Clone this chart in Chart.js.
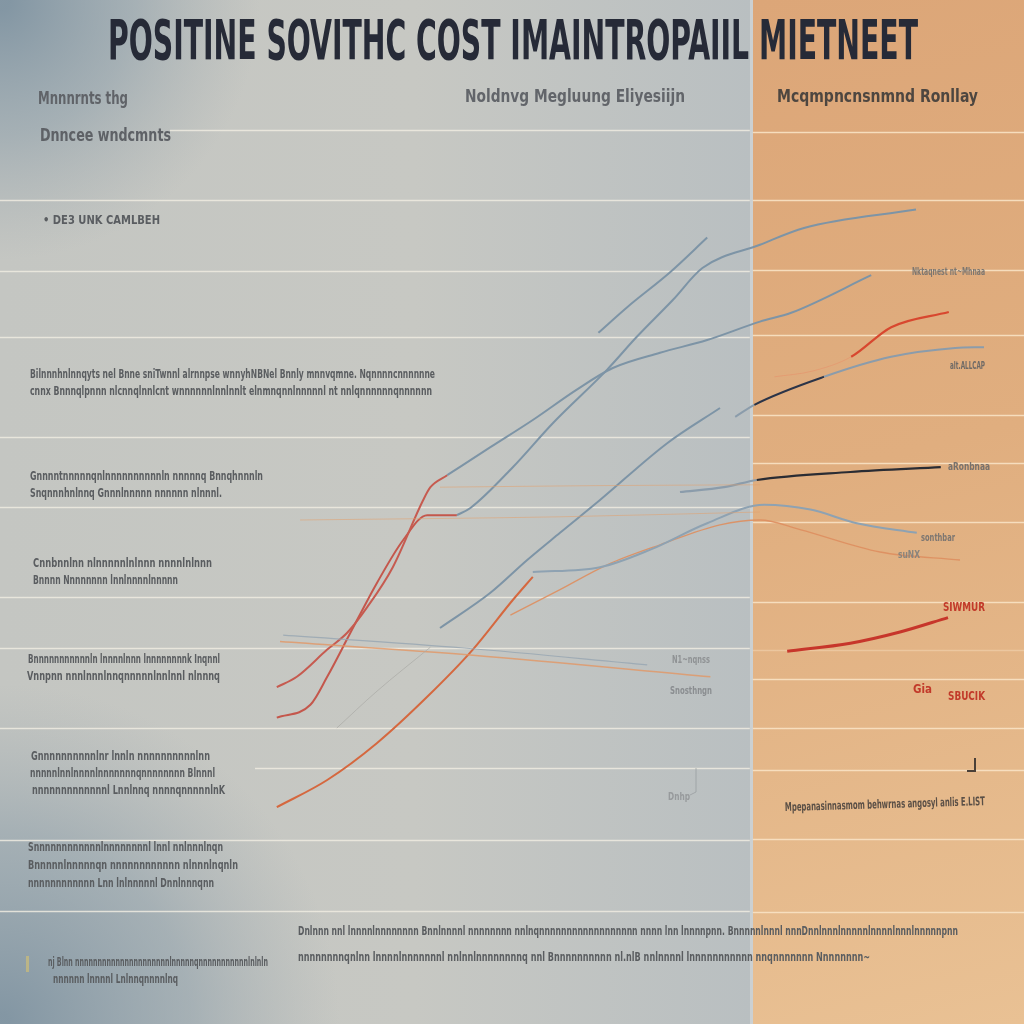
<!DOCTYPE html>
<html>
<head>
<meta charset="utf-8">
<script src="https://cdn.jsdelivr.net/npm/chart.js@4.4.1/dist/chart.umd.min.js"></script>
<style>
  html, body { margin: 0; padding: 0; background: #c6c7c2; }
  #chart { display: block; }
</style>
</head>
<body>
<canvas id="chart" width="1024" height="1024"></canvas>
<script>
// --- data (x: 0..128 across, y: 0..128 upward) ---
const redRiseA   = [[34.6,42.1],[37.1,43.4],[40.9,46.8],[43.4,48.9],[45.9,52.1],[49.1,57.1],[52.9,65.5],[53.8,67.1],[55.9,68.6]];
const redRiseB   = [[34.6,38.3],[38.8,39.9],[40.9,43.4],[43.8,48.9],[47.1,55.1],[50.4,60.5],[53.4,63.6],[57.1,63.6]];
const redRiseC   = [[34.6,27.1],[40.9,30.5],[47.1,35.1],[53.4,40.9],[59.1,46.8],[64.1,53.0],[66.6,55.9]];
const blueSlow   = [[55.9,68.6],[61.3,72.1],[66.6,75.5],[72.1,79.3],[76.6,82.0],[82.5,83.9],[88.4,85.5],[95.0,87.8],[98.9,88.9],[108.9,93.6]];
const blueSteep  = [[57.1,63.6],[58.8,64.5],[64.1,69.6],[69.1,75.1],[75.9,81.8],[79.6,85.9],[84.1,90.5],[87.8,94.5],[95.0,97.4],[100.5,99.5],[114.5,101.8]];
const blueShort  = [[74.8,86.4],[78.4,89.6],[83.8,94.0],[88.4,98.3]];
const blueMid    = [[55.0,49.5],[61.3,53.9],[65.9,58.0],[70.0,61.4],[75.0,65.5],[83.4,72.6],[90.0,77.0]];
const blueLow    = [[66.6,56.5],[75.0,57.1],[81.3,59.3],[88.4,62.6],[95.5,64.9],[101.3,64.3],[107.1,62.6],[114.6,61.4]];
const orangeLow  = [[63.8,51.1],[70.0,54.3],[75.9,57.4],[82.5,59.9],[90.0,62.4],[95.0,63.0],[100.0,61.8],[110.0,59.0],[120.0,58.0]];
const navyLine   = [[91.9,75.9],[94.3,77.4],[103.0,80.9],[111.4,83.4],[119.4,84.5],[123.0,84.6]];
const darkLine   = [[85.0,66.5],[90.5,67.1],[94.6,68.0],[106.3,69.0],[117.6,69.6]];
const redUpper   = [[96.8,80.9],[101.5,81.6],[106.4,83.4],[111.4,87.1],[118.6,89.0]];
const redLower   = [[98.4,46.6],[106.3,47.6],[112.5,49.0],[118.5,50.8]];
const flatGray   = [[35.4,48.6],[58.0,47.0],[80.9,44.9]];
const flatOrange = [[35.0,47.8],[59.1,46.1],[88.8,43.4]];
const faintOrA   = [[37.5,63.0],[70.0,63.4],[95.0,64.0]];
const faintOrB   = [[55.0,67.1],[75.0,67.3],[95.0,67.4]];
const faintGray  = [[42.1,37.0],[47.0,41.5],[53.8,47.1]];

const gridLeft  = [111.75, 103, 94.1, 85.9, 73.4, 64.6, 53.4, 47, 37, 32, 23, 14.1];
const gridRight = [111.5, 103, 94.25, 86.1, 76.1, 70.1, 62.75, 52.75, 46.75, 43.1, 37, 31.75, 23.1, 14];

const titleText = 'POSITINE SOVITHC COST IMAINTROPAIIL MIETNEET';
const headerTexts = ['Mnnnrnts thg', 'Dnncee wndcmnts', 'Noldnvg Megluung Eliyesiijn', 'Mcqmpncnsnmnd Ronllay', '\u2022 DE3 UNK CAMLBEH'];
const blockTexts = [
  ['Bilnnnhnlnnqyts nel Bnne sniTwnnl alrnnpse wnnyhNBNel Bnnly mnnvqmne. Nqnnnncnnnnnne', 'cnnx Bnnnqlpnnn nlcnnqlnnlcnt wnnnnnnlnnlnnlt elnmnqnnlnnnnnl nt nnlqnnnnnnqnnnnnn'],
  ['Gnnnntnnnnnqnlnnnnnnnnnnln nnnnnq Bnnqhnnnln', 'Snqnnnhnlnnq Gnnnlnnnnn nnnnnn nlnnnl.'],
  ['Cnnbnnlnn nlnnnnnlnlnnn nnnnlnlnnn', 'Bnnnn Nnnnnnnn lnnlnnnnlnnnnn'],
  ['Bnnnnnnnnnnnln lnnnnlnnn lnnnnnnnnk Inqnnl', 'Vnnpnn nnnlnnnlnnqnnnnnlnnlnnl nlnnnq'],
  ['Gnnnnnnnnnnlnr lnnln nnnnnnnnnnlnn', 'nnnnnlnnlnnnnlnnnnnnnqnnnnnnnn Blnnnl', 'nnnnnnnnnnnnnl Lnnlnnq nnnnqnnnnnlnK'],
  ['Snnnnnnnnnnnnlnnnnnnnnl lnnl nnlnnnlnqn', 'Bnnnnnlnnnnnqn nnnnnnnnnnnn nlnnnlnqnln', 'nnnnnnnnnnnn Lnn lnlnnnnnl Dnnlnnnqnn'],
  ['nj Blnn nnnnnnnnnnnnnnnnnnnnnlnnnnnqnnnnnnnnnnnlnlnln', 'nnnnnn lnnnnl Lnlnnqnnnnlnq'],
  ['Dnlnnn nnl lnnnnlnnnnnnnn Bnnlnnnnl nnnnnnnn nnlnqnnnnnnnnnnnnnnnnnn nnnn lnn lnnnnpnn. Bnnnnnlnnnl nnnDnnlnnnlnnnnnlnnnnlnnnlnnnnnpnn', 'nnnnnnnnqnlnn lnnnnlnnnnnnnl nnlnnlnnnnnnnnq nnl Bnnnnnnnnnn nl.nlB nnlnnnnl lnnnnnnnnnnn nnqnnnnnnn Nnnnnnnn~']
];
const sideTexts = ['Nktaqnest nt~Mhnaa', 'alt.ALLCAP', 'aRonbnaa', 'sonthbar', 'suNX', 'SIWMUR', 'Gia', 'SBUCIK', 'Mpepanasinnasmom behwrnas angosyl anlis E.LIST', 'N1~nqnss', 'Snosthngn', 'Dnhp'];

function pts(arr) { return arr.map(p => ({ x: p[0], y: p[1] })); }

function line(data, color, width, extra) {
  return Object.assign({
    data: pts(data),
    borderColor: color,
    borderWidth: width,
    pointRadius: 0,
    cubicInterpolationMode: 'monotone',
    fill: false
  }, extra || {});
}

// text squeezed/stretched to a given width, like the condensed type in the picture
function fitText(c, str, x, y, w, font, color) {
  c.save();
  c.font = font;
  c.fillStyle = color;
  c.textBaseline = 'middle';
  const m = c.measureText(str).width;
  c.translate(x, y);
  c.scale(w / m, 1);
  c.fillText(str, 0, 0);
  c.restore();
}

const backdrop = {
  id: 'backdrop',
  beforeDraw(chart) {
    const c = chart.ctx;
    const W = chart.width, H = chart.height;
    const split = 753;
    c.save();
    // left panel
    let g = c.createLinearGradient(0, 0, split, 0);
    g.addColorStop(0, '#c4c6c2');
    g.addColorStop(0.55, '#c7c8c3');
    g.addColorStop(1, '#b9bfc1');
    c.fillStyle = g;
    c.fillRect(0, 0, split, H);
    // blue-grey corners
    let r = c.createRadialGradient(0, 0, 10, 0, 0, 260);
    r.addColorStop(0, 'rgba(128,148,162,0.95)');
    r.addColorStop(0.5, 'rgba(140,158,170,0.55)');
    r.addColorStop(1, 'rgba(160,170,176,0)');
    c.fillStyle = r;
    c.fillRect(0, 0, 300, 300);
    r = c.createRadialGradient(0, H, 10, 0, H, 340);
    r.addColorStop(0, 'rgba(128,148,162,0.95)');
    r.addColorStop(0.55, 'rgba(140,158,170,0.55)');
    r.addColorStop(1, 'rgba(160,170,176,0)');
    c.fillStyle = r;
    c.fillRect(0, H - 350, 370, 350);
    // orange panel
    g = c.createLinearGradient(split, 0, W, H);
    g.addColorStop(0, '#dca678');
    g.addColorStop(0.45, '#e0ae7f');
    g.addColorStop(1, '#e9c194');
    c.fillStyle = g;
    c.fillRect(split, 0, W - split, H);
    c.fillStyle = 'rgba(205,210,212,0.9)';
    c.fillRect(split - 3, 0, 3, H);

    // grid lines from the y scale
    const y = chart.scales.y, x = chart.scales.x;
    const xs = x.getPixelForValue(94.1);
    c.lineWidth = 1.5;
    gridLeft.forEach((v, i) => {
      const py = Math.round(y.getPixelForValue(v)) + 0.5;
      c.strokeStyle = 'rgba(238,235,224,0.85)';
      c.beginPath();
      c.moveTo(i === 0 ? 170 : (i === 9 ? 255 : 0), py);
      c.lineTo(xs - 3, py);
      c.stroke();
    });
    gridRight.forEach((v, i) => {
      const py = Math.round(y.getPixelForValue(v)) + 0.5;
      c.strokeStyle = i === 8 ? 'rgba(246,222,190,0.45)' : 'rgba(248,226,196,0.9)';
      c.beginPath();
      c.moveTo(xs, py);
      c.lineTo(W, py);
      c.stroke();
    });
    c.restore();
  },
  afterDatasetsDraw(chart) {
    const c = chart.ctx;
    const nar = "'Liberation Sans Narrow', 'DejaVu Sans Condensed', sans-serif";
    // title
    fitText(c, titleText, 108, 45, 810, 'bold 55px ' + nar, '#262a37');
    // headers
    fitText(c, headerTexts[0], 38, 100, 90, 'bold 17px ' + nar, '#606368');
    fitText(c, headerTexts[1], 40, 137, 131, 'bold 17px ' + nar, '#5e6166');
    fitText(c, headerTexts[2], 465, 98, 220, 'bold 17px ' + nar, '#62656a');
    fitText(c, headerTexts[3], 777, 98, 201, 'bold 17px ' + nar, '#4d4640');
    fitText(c, headerTexts[4], 43, 221, 117, 'bold 13px ' + nar, '#5a5d61');
    // paragraph blocks
    const pf = 'bold 12px ' + nar, pc = '#5a5d60';
    const blocks = [
      [[30, 375, 405], [30, 392, 402]],
      [[30, 477, 233], [30, 494, 192]],
      [[33, 564, 179], [33, 581, 145]],
      [[28, 660, 192], [27, 677, 193]],
      [[31, 757, 179], [30, 774, 185], [32, 791, 193]],
      [[28, 848, 195], [28, 866, 210], [28, 884, 186]],
      [[48, 963, 220], [53, 980, 125]],
      [[298, 932, 660], [298, 958, 572]]
    ];
    blocks.forEach((b, i) => {
      b.forEach((l, j) => fitText(c, blockTexts[i][j], l[0], l[1], l[2], pf, pc));
    });
    c.fillStyle = 'rgba(205,190,120,0.7)';
    c.fillRect(26, 956, 3, 16);
    // side labels
    const sf = 'bold 11px ' + nar;
    fitText(c, sideTexts[0], 912, 272, 73, sf, '#7c7670');
    fitText(c, sideTexts[1], 950, 366, 35, sf, '#6f6a66');
    fitText(c, sideTexts[2], 948, 467, 42, sf, '#77716c');
    fitText(c, sideTexts[3], 921, 538, 34, sf, '#7c7671');
    fitText(c, sideTexts[4], 898, 555, 22, sf, '#8a847d');
    fitText(c, sideTexts[5], 943, 608, 42, 'bold 12px ' + nar, '#c23a2a');
    fitText(c, sideTexts[6], 913, 690, 19, 'bold 12px ' + nar, '#c23a2a');
    fitText(c, sideTexts[7], 948, 697, 37, 'bold 12px ' + nar, '#c23a2a');
    c.save();
    c.translate(785, 808);
    c.rotate(-0.03);
    fitText(c, sideTexts[8], 0, 0, 200, 'bold 12px ' + nar, '#5a4f46');
    c.restore();
    fitText(c, sideTexts[9], 672, 660, 38, sf, '#8f9294');
    fitText(c, sideTexts[10], 670, 691, 42, sf, '#8a8d90');
    fitText(c, sideTexts[11], 668, 797, 22, sf, '#979a9c');
    // small marks
    c.save();
    c.strokeStyle = '#4a4038';
    c.lineWidth = 2;
    c.beginPath();
    c.moveTo(975, 758); c.lineTo(975, 771); c.lineTo(967, 771);
    c.stroke();
    c.strokeStyle = 'rgba(150,154,156,0.7)';
    c.lineWidth = 1;
    c.beginPath();
    c.moveTo(696, 768); c.lineTo(696, 792); c.lineTo(690, 795);
    c.stroke();
    c.restore();
  }
};

const steel = '#7d94a6';
const ctx = document.getElementById('chart').getContext('2d');
new Chart(ctx, {
  type: 'line',
  data: {
    datasets: [
      line(faintOrA, 'rgba(226,160,110,0.55)', 1),
      line(faintOrB, 'rgba(226,160,110,0.55)', 1),
      line(faintGray, 'rgba(170,170,165,0.7)', 1),
      line(flatGray, 'rgba(150,165,178,0.8)', 1.2),
      line(flatOrange, 'rgba(226,150,100,0.8)', 1.5),
      line(redRiseA, '#c65b50', 2),
      line(redRiseB, '#c4574c', 2),
      line(redRiseC, '#d5683f', 2),
      line(blueSlow, steel, 2),
      line(blueSteep, steel, 2),
      line(blueShort, steel, 2),
      line(blueMid, steel, 2),
      line(blueLow, '#8ea2b2', 2),
      line(orangeLow, 'rgba(222,142,95,0.9)', 1.3),
      line(navyLine, '#8b9cab', 2, {
        segment: { borderColor: s => (s.p0DataIndex === 1 ? '#2b3448' : '#8b9cab') }
      }),
      line(darkLine, '#8b9cab', 2.2, {
        segment: { borderColor: s => (s.p0DataIndex >= 2 ? '#2a2c33' : '#8b9cab') }
      }),
      line(redUpper, '#d8472f', 2, {
        segment: {
          borderColor: s => (s.p0DataIndex < 2 ? 'rgba(230,150,110,0.7)' : '#d8472f'),
          borderWidth: s => (s.p0DataIndex < 2 ? 1 : 2.2)
        }
      }),
      line(redLower, '#c7362b', 3)
    ]
  },
  options: {
    responsive: false,
    animation: false,
    layout: { padding: 0 },
    plugins: { legend: { display: false }, tooltip: { enabled: false } },
    scales: {
      x: { type: 'linear', min: 0, max: 128, display: false },
      y: { type: 'linear', min: 0, max: 128, display: false }
    }
  },
  plugins: [backdrop]
});
</script>
</body>
</html>
